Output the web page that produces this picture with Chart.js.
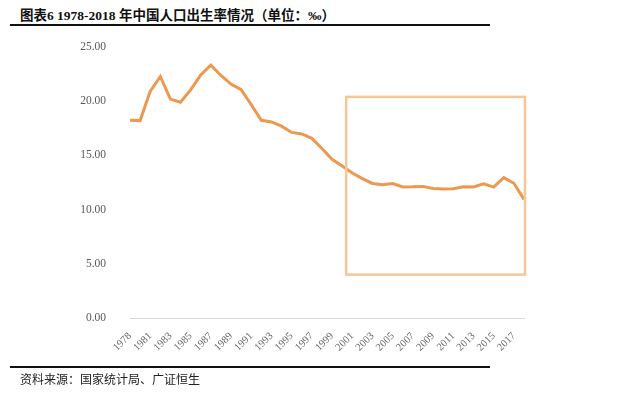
<!DOCTYPE html>
<html>
<head>
<meta charset="utf-8">
<script src="https://cdn.jsdelivr.net/npm/chart.js@4"></script>
<style>
  html, body { margin: 0; padding: 0; background: #fff; }
  #wrap { position: relative; width: 640px; height: 393px; overflow: hidden; }
  #title {
    position: absolute; left: 20px; top: 4px;
    font: bold 13.5px "Liberation Serif", "Noto Sans CJK SC", serif;
    color: #111; white-space: nowrap;
  }
  .rule { position: absolute; left: 10px; height: 2px; background: #111; }
  #source {
    position: absolute; left: 20px; top: 370px;
    font: 12px "Noto Sans CJK SC", serif; color: #222; white-space: nowrap;
  }
  canvas { position: absolute; left: 0; top: 0; }
</style>
</head>
<body>
<div id="wrap">
  <div id="title">图表6 1978-2018 年中国人口出生率情况（单位：‰）</div>
  <div class="rule" style="top:24px;width:480px"></div>
  <canvas id="birthChart" width="640" height="393"></canvas>
  <div class="rule" style="top:366px;width:480px"></div>
  <div id="source">资料来源：国家统计局、广证恒生</div>
</div>
<script>
// 出生率数据（‰）
const years = ['1978','1980','1981','1982','1983','1984','1985','1986','1987','1988',
  '1989','1990','1991','1992','1993','1994','1995','1996','1997','1998',
  '1999','2000','2001','2002','2003','2004','2005','2006','2007','2008',
  '2009','2010','2011','2012','2013','2014','2015','2016','2017','2018'];
const birthRate = [18.25, 18.21, 20.91, 22.28, 20.19, 19.90, 21.04, 22.43, 23.33, 22.37,
  21.58, 21.06, 19.68, 18.24, 18.09, 17.70, 17.12, 16.98, 16.57, 15.64,
  14.64, 14.03, 13.38, 12.86, 12.41, 12.29, 12.40, 12.09, 12.10, 12.14,
  11.95, 11.90, 11.93, 12.10, 12.08, 12.37, 12.07, 12.95, 12.43, 10.94];
const yTicks = [0, 5, 10, 15, 20, 25];
// highlight box, in data units (category index / ‰)
const boxX = [21.4, 39.1];
const boxY = [4.0, 20.4];

const boxPlugin = {
  id: 'highlightBox',
  afterDatasetsDraw(chart) {
    const { ctx, scales: { x, y } } = chart;
    const x0 = x.getPixelForValue(boxX[0]);
    const x1 = x.getPixelForValue(boxX[1]);
    const y0 = y.getPixelForValue(boxY[1]);
    const y1 = y.getPixelForValue(boxY[0]);
    ctx.save();
    ctx.strokeStyle = '#F4C69A';
    ctx.lineWidth = 2.5;
    ctx.strokeRect(x0, y0, x1 - x0, y1 - y0);
    ctx.restore();
  }
};

new Chart(document.getElementById('birthChart'), {
  type: 'line',
  data: {
    labels: years,
    datasets: [{
      data: birthRate,
      borderColor: '#EC9850',
      borderWidth: 3,
      pointRadius: 0,
      tension: 0,
      fill: false
    }]
  },
  options: {
    responsive: false,
    animation: false,
    layout: { padding: { top: 47, right: 116, bottom: 0, left: 0 } },
    plugins: { legend: { display: false }, tooltip: { enabled: false } },
    scales: {
      x: {
        offset: false,
        grid: { display: false },
        border: { display: true, color: '#D9D9D9', width: 1 },
        afterFit: (s) => { s.height = 75; },
        ticks: {
          autoSkip: false,
          minRotation: 45, maxRotation: 45,
          padding: 4,
          color: '#666',
          font: { family: 'Liberation Serif', size: 10.5 },
          callback: (v, i) => (i % 2 === 0 ? years[i] : '')
        }
      },
      y: {
        min: yTicks[0],
        max: yTicks[yTicks.length - 1],
        afterBuildTicks: (s) => { s.ticks = yTicks.map(v => ({ value: v })); },
        afterFit: (s) => { s.width = 130; },
        grid: { display: false },
        border: { display: false },
        ticks: {
          padding: 16,
          color: '#595959',
          font: { family: 'Liberation Serif', size: 11.5 },
          callback: (v) => Number(v).toFixed(2)
        }
      }
    }
  },
  plugins: [boxPlugin]
});
</script>
</body>
</html>
